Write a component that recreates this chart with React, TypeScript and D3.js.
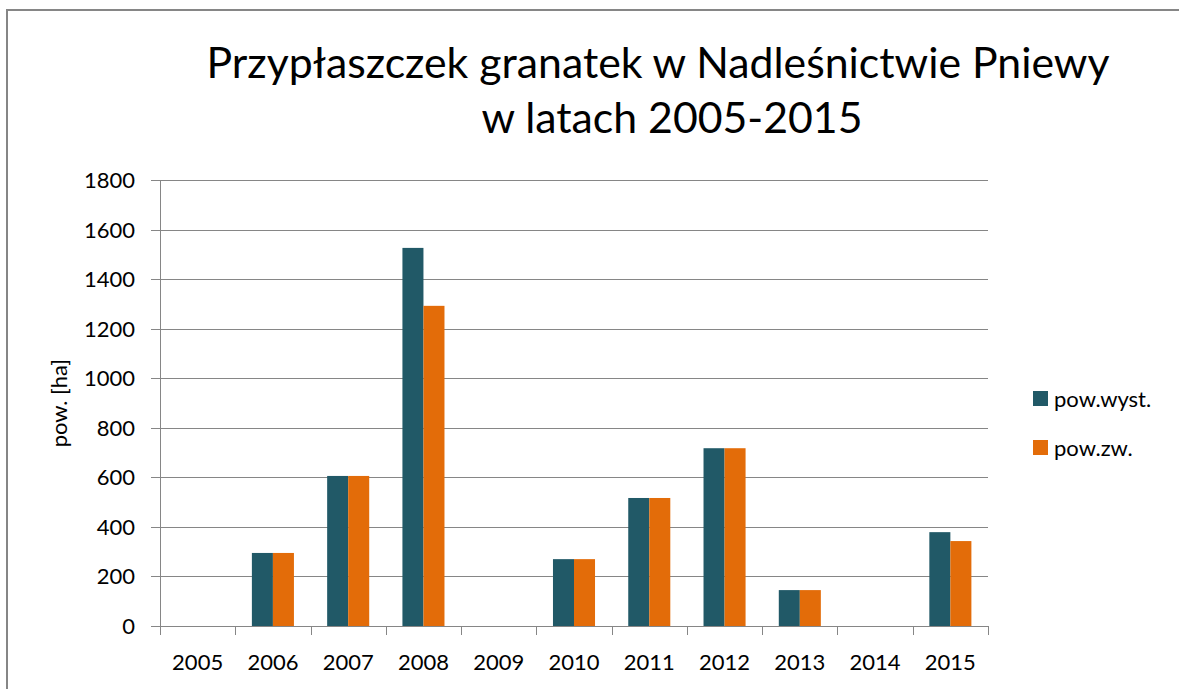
import React from "react";
import * as d3 from "d3";

const years = ["2005","2006","2007","2008","2009","2010","2011","2012","2013","2014","2015"];
const seriesNames = ["pow.wyst.", "pow.zw."];
const powWyst = [0, 295, 606, 1527, 0, 270, 517, 718, 145, 0, 379];
const powZw = [0, 295, 606, 1293, 0, 270, 517, 718, 145, 0, 343];
const yTicks = [0, 200, 400, 600, 800, 1000, 1200, 1400, 1600, 1800];
const colors = ["#215967", "#E36C09"];
const titleLines = ["Przypłaszczek granatek w Nadleśnictwie Pniewy", "w latach 2005-2015"];
const yLabel = "pow. [ha]";

const W = 1179, H = 689;
const FONT = "Lato, 'Open Sans', sans-serif";

export default function App() {
  const plot = { left: 160, right: 988, top: 180.3, bottom: 626 };
  const x0 = d3.scaleBand<string>().domain(years).range([plot.left, plot.right]).paddingInner(0).paddingOuter(0);
  const x1 = d3.scaleBand<string>().domain(seriesNames).range([0, x0.bandwidth()]).paddingInner(0).paddingOuter(0.79);
  const y = d3.scaleLinear().domain([0, 1800]).range([plot.bottom, plot.top]);
  const data = [powWyst, powZw];
  const boundaries = years.map((yr) => x0(yr) as number).concat([plot.right]);

  return (
    <svg width={W} height={H} style={{ position: "absolute", left: 0, top: 0, background: "#fff" }} fontFamily={FONT}>
      <rect x={0} y={0} width={W} height={H} fill="#fff" />
      <rect x={7} y={10} width={W + 20} height={H + 20} fill="none" stroke="#868686" strokeWidth={2} />
      <text x={658} y={78} fontSize={42} textAnchor="middle" fill="#000" textLength={903} lengthAdjust="spacingAndGlyphs">{titleLines[0]}</text>
      <text x={672} y={133} fontSize={42} textAnchor="middle" fill="#000" textLength={381} lengthAdjust="spacingAndGlyphs">{titleLines[1]}</text>

      {yTicks.map((t) => (
        <g key={t}>
          <line x1={plot.left - 9} x2={plot.right} y1={Math.round(y(t)) + 0.5} y2={Math.round(y(t)) + 0.5} stroke="#868686" strokeWidth={1} />
          <text x={135} y={y(t)} dy="0.36em" fontSize={22} textAnchor="end" fill="#000">{t}</text>
        </g>
      ))}
      <line x1={plot.left + 0.5} x2={plot.left + 0.5} y1={plot.top} y2={plot.bottom + 9} stroke="#868686" strokeWidth={1} />
      {boundaries.map((bx, i) => (
        <line key={i} x1={Math.round(bx) + 0.5} x2={Math.round(bx) + 0.5} y1={plot.bottom} y2={plot.bottom + 9} stroke="#868686" strokeWidth={1} />
      ))}

      {years.map((yr, i) => (
        <g key={yr} transform={`translate(${x0(yr)},0)`}>
          {seriesNames.map((s, j) => {
            const v = data[j][i];
            if (!v) return null;
            return <rect key={s} x={x1(s)} y={y(v)} width={x1.bandwidth()} height={y(0) - y(v)} fill={colors[j]} />;
          })}
          <text x={x0.bandwidth() / 2} y={670} fontSize={22} textAnchor="middle" fill="#000">{yr}</text>
        </g>
      ))}

      <text transform={`translate(67,${(plot.top + plot.bottom) / 2}) rotate(-90)`} fontSize={22} textAnchor="middle" fill="#000">{yLabel}</text>

      {seriesNames.map((s, j) => (
        <g key={s} transform={`translate(1033,${391 + j * 49})`}>
          <rect x={0} y={0} width={15} height={15} fill={colors[j]} />
          <text x={21} y={16} fontSize={22} fill="#000">{s}</text>
        </g>
      ))}
    </svg>
  );
}
